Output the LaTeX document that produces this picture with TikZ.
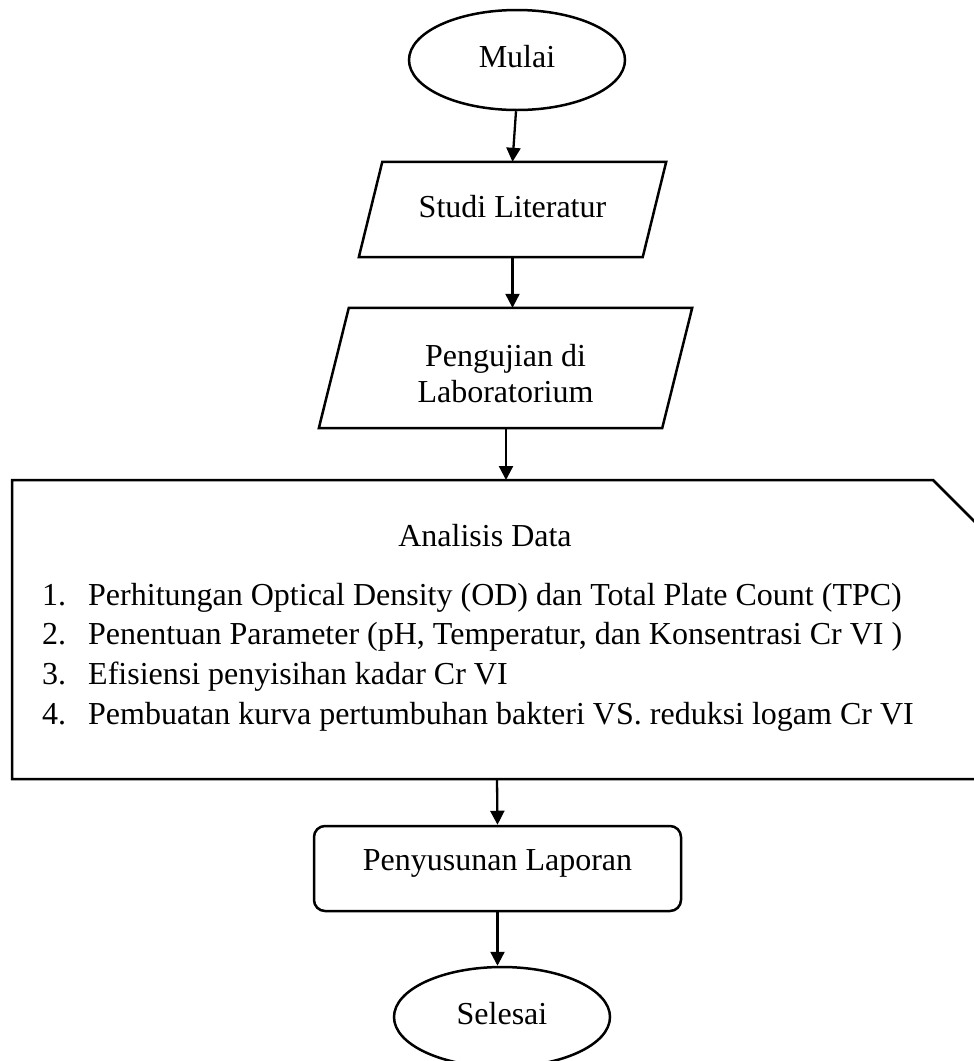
\documentclass[tikz,border=0pt]{standalone}
\usepackage{fontspec}
\setmainfont{Liberation Serif}
\usetikzlibrary{shapes.geometric,arrows.meta}
\begin{document}
\begin{tikzpicture}[x=1pt,y=-1pt,
  every node/.style={font=\fontsize{32}{36}\selectfont},
  shp/.style={draw,line width=2.5pt,inner sep=0pt},
  dims/.style={text height=22pt,text depth=7pt},
  term/.style={shp,dims,ellipse,minimum width=216pt,minimum height=100pt},
  body/.style={rectangle,inner sep=0pt},
  outline/.style={line width=2.5pt,line join=miter},
  proc/.style={shp,rectangle,rounded corners=11pt,minimum width=367pt,minimum height=85pt,text height=22pt,text depth=19pt},
  arr/.style={line width=2.3pt,-{Triangle[length=14pt,width=14pt]}},
  txt/.style={inner sep=0pt,anchor=base west},
  ctxt/.style={inner sep=0pt,anchor=base}
]
\clip (0,0) rectangle (974,1061);

% start
\node[term] (mulai) at (517,60) {Mulai};

% Studi Literatur (parallelogram, skew 23.5)
\node[body,dims,minimum width=283.5pt,minimum height=95pt] (studi) at (512.5,209.5) {Studi Literatur};
\draw[outline] ([xshift=-11.75pt]studi.south west) -- ([xshift=11.75pt]studi.north west)
  -- ([xshift=11.75pt]studi.north east) -- ([xshift=-11.75pt]studi.south east) -- cycle;

% Pengujian di Laboratorium (parallelogram, skew 30)
\node[body,minimum width=343pt,minimum height=120pt] (uji) at (505.5,368) {};
\draw[outline] ([xshift=-15pt]uji.south west) -- ([xshift=15pt]uji.north west)
  -- ([xshift=15pt]uji.north east) -- ([xshift=-15pt]uji.south east) -- cycle;
\node[align=center,inner sep=0pt] (ujitext) at (505.5,374) {Pengujian di\\Laboratorium};

% card (Analisis Data)
\draw[outline] (12,480) -- (933,480) -- (1012,559) -- (1012,779) -- (12,779) -- cycle;
\coordinate (cardin) at (506,480);
\coordinate (cardout) at (497,779);
\node[ctxt] (analisis) at (485,546) {Analisis Data};
\node[txt] (n1) at (42,605) {1.};
\node[txt] (t1) at (88,605) {Perhitungan Optical Density (OD) dan Total Plate Count (TPC)};
\node[txt] (n2) at (42,644.5) {2.};
\node[txt] (t2) at (88,644.5) {Penentuan Parameter (pH, Temperatur, dan Konsentrasi Cr VI )};
\node[txt] (n3) at (42,684.5) {3.};
\node[txt] (t3) at (88,684.5) {Efisiensi penyisihan kadar Cr VI};
\node[txt] (n4) at (42,724) {4.};
\node[txt] (t4) at (88,724) {Pembuatan kurva pertumbuhan bakteri VS. reduksi logam Cr VI};

% report and end
\node[proc] (lapor) at (497.5,868.5) {Penyusunan Laporan};
\node[term] (selesai) at (502,1017) {Selesai};

% connectors
\draw[arr] ([xshift=-1pt]mulai.south) -- (studi.north);
\draw[arr] (studi.south) -- ([xshift=7pt]uji.north);
\draw[arr] ([xshift=0.5pt]uji.south) -- (cardin);
\draw[arr] (cardout) -- (lapor.north);
\draw[arr] (lapor.south) -- (lapor.south |- selesai.north);
\end{tikzpicture}
\end{document}
